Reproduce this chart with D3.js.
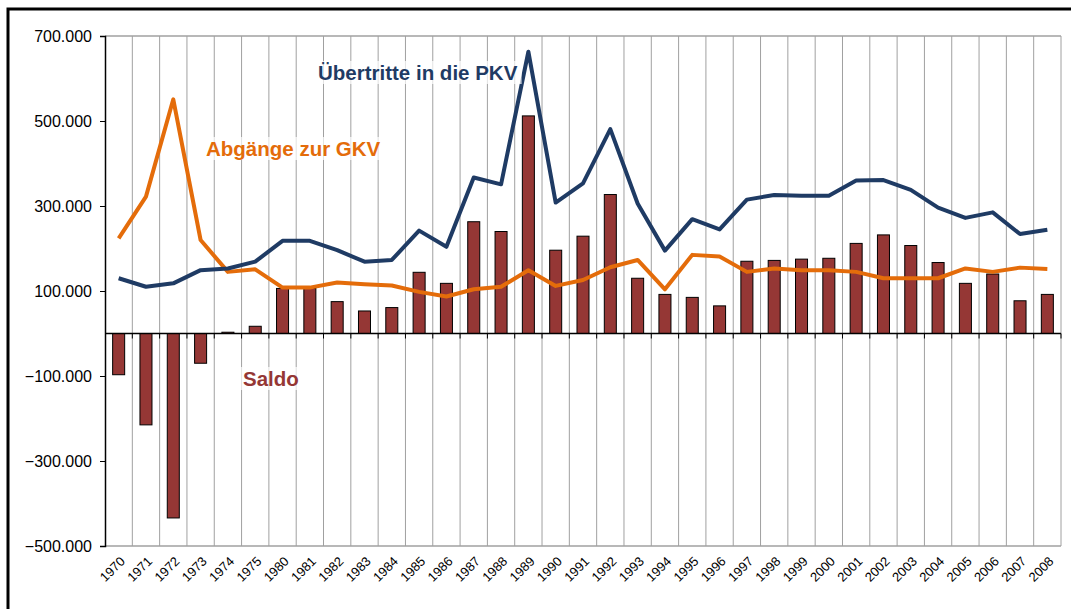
<!DOCTYPE html>
<html><head><meta charset="utf-8">
<script src="https://cdn.jsdelivr.net/npm/d3@7"></script>
<style>
body{margin:0;background:#fff;}
svg{display:block;font-family:"Liberation Sans",Arial,sans-serif;}
</style></head>
<body>
<svg id="c" width="1071" height="609"></svg>
<script>
const years = ["1970","1971","1972","1973","1974","1975","1980","1981","1982","1983","1984","1985","1986","1987","1988","1989","1990","1991","1992","1993","1994","1995","1996","1997","1998","1999","2000","2001","2002","2003","2004","2005","2006","2007","2008"];
const saldo = [-97000,-215000,-434000,-70000,3000,17000,106000,106000,75000,53000,61000,144000,118000,263000,240000,512000,196000,229000,327000,130000,92000,85000,65000,170000,172000,175000,177000,212000,232000,207000,167000,118000,140000,77000,92000];
const uebertritte = [130000,110000,118000,149000,153000,169000,218000,218000,196000,169000,173000,242000,204000,367000,351000,663000,308000,353000,481000,306000,195000,269000,245000,315000,326000,324000,324000,360000,361000,338000,296000,272000,285000,234000,244000];
const abgaenge = [224000,322000,551000,220000,145000,151000,108000,108000,120000,116000,113000,98000,87000,104000,110000,149000,112000,126000,156000,173000,104000,185000,181000,145000,153000,149000,149000,145000,130000,130000,130000,153000,145000,155000,152000];
const yTicks = [-500000,-300000,-100000,100000,300000,500000,700000];

const svg = d3.select("#c");
const L = 105, R = 1061, T = 36, B = 546;
const x = d3.scaleBand().domain(years).range([L, R]).paddingInner(0.56).paddingOuter(0.28);
const xb = d3.scaleBand().domain(years).range([L, R]);
const y = d3.scaleLinear().domain([-500000, 700000]).range([B, T]);
const fmt = v => d3.format(",")(v).replace(/,/g, ".");

// outer frame
svg.append("rect").attr("x", 8).attr("y", 9).attr("width", 1100).attr("height", 700)
  .attr("fill", "none").attr("stroke", "#000").attr("stroke-width", 3);

// vertical grid lines at band boundaries
const bounds = years.map(d => xb(d) + xb.bandwidth());
svg.append("g").selectAll("line").data(bounds).join("line")
  .attr("x1", d => d).attr("x2", d => d).attr("y1", T).attr("y2", B)
  .attr("stroke", "#a0a0a0").attr("stroke-width", 1);
// top & bottom gridline
svg.append("line").attr("x1", L).attr("x2", R).attr("y1", y(700000)).attr("y2", y(700000))
  .attr("stroke", "#a0a0a0").attr("stroke-width", 1.5);
svg.append("line").attr("x1", L).attr("x2", R).attr("y1", y(-500000)).attr("y2", y(-500000))
  .attr("stroke", "#a0a0a0").attr("stroke-width", 1.5);

// bars
svg.append("g").selectAll("rect").data(years).join("rect")
  .attr("x", d => x(d)).attr("width", x.bandwidth())
  .attr("y", (d, i) => y(Math.max(0, saldo[i])))
  .attr("height", (d, i) => Math.abs(y(saldo[i]) - y(0)))
  .attr("fill", "#953735").attr("stroke", "#000").attr("stroke-width", 1);

// zero axis
const xAxis = d3.axisBottom(xb).tickSize(0).tickFormat("");
svg.append("line").attr("x1", L).attr("x2", R).attr("y1", y(0)).attr("y2", y(0))
  .attr("stroke", "#000").attr("stroke-width", 1.5);
svg.append("g").selectAll("line").data(bounds).join("line")
  .attr("x1", d => d).attr("x2", d => d).attr("y1", y(0)).attr("y2", y(0) + 5)
  .attr("stroke", "#000").attr("stroke-width", 1);

// y axis
const yAxis = d3.axisLeft(y).tickValues(yTicks).tickSize(5).tickPadding(8).tickFormat(fmt);
const gy = svg.append("g").attr("transform", `translate(${L},0)`).call(yAxis);
gy.attr("font-size", null).attr("font-family", null);
gy.select(".domain").attr("stroke", "#000").attr("stroke-width", 1.5);
gy.selectAll(".tick line").attr("stroke", "#000");
gy.selectAll("text").style("font-size", "16px").attr("fill", "#000").style("font-family", "Liberation Sans, Arial, sans-serif");

// x labels
const gx = svg.append("g").attr("transform", `translate(0,${B})`).call(xAxis);
gx.attr("font-size", null).attr("font-family", null);
gx.select(".domain").remove();
gx.selectAll(".tick text").style("font-size", "13px").attr("fill", "#000")
  .style("font-family", "Liberation Sans, Arial, sans-serif")
  .attr("text-anchor", "end").attr("dy", 0)
  .attr("transform", "translate(5,14) rotate(-45)")
  .text(d => d);

// lines
const cx = d => xb(d) + xb.bandwidth() / 2;
const line = d3.line().x((d, i) => cx(years[i])).y(d => y(d));
svg.append("path").datum(abgaenge).attr("d", line).attr("fill", "none")
  .attr("stroke", "#E46C0A").attr("stroke-width", 4).attr("stroke-linejoin", "round");
svg.append("path").datum(uebertritte).attr("d", line).attr("fill", "none")
  .attr("stroke", "#1F3B64").attr("stroke-width", 4).attr("stroke-linejoin", "round");

// labels
function label(txt, xx, yy, col) {
  const t = svg.append("text").attr("x", xx).attr("y", yy).style("font-size", "20.5px")
    .attr("font-weight", "bold").attr("fill", col).text(txt);
  const bb = t.node().getBBox();
  svg.insert("rect", () => t.node()).attr("x", bb.x - 4).attr("y", bb.y)
    .attr("width", bb.width + 8).attr("height", bb.height).attr("fill", "#fff").attr("opacity", 0.7);
}
label("Übertritte in die PKV", 318, 80, "#1F3B64");
label("Abgänge zur GKV", 206, 156, "#E46C0A");
label("Saldo", 243, 386, "#953735");
</script>
</body></html>
